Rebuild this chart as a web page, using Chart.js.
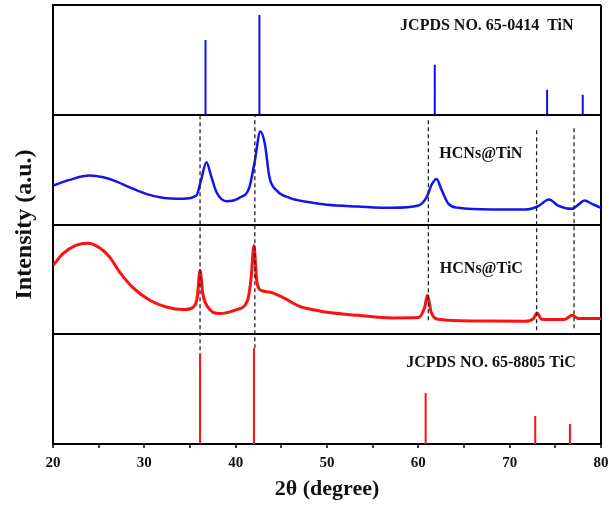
<!DOCTYPE html>
<html>
<head>
<meta charset="utf-8">
<script src="https://cdn.jsdelivr.net/npm/chart.js@4.4.0/dist/chart.umd.min.js"></script>
<style>
    html, body { margin: 0; padding: 0; background: #fff; }
    #wrap { width: 609px; height: 510px; }
</style>
</head>
<body>
<div id="wrap"><canvas id="xrdChart"></canvas></div>
<script>
// reference stick patterns (2theta, relative intensity)
var tinRefPos = [36.7, 42.6, 61.8, 74.1, 78.0];
var tinRefInt = [75, 100, 50, 25, 20];
var ticRefPos = [36.1, 42.0, 60.8, 72.8, 76.6];
var ticRefInt = [91, 96, 51, 28, 20];

// HCNs@TiN measured pattern
var tinAngle = [20.0, 21.8, 24.0, 25.5, 26.9, 28.4, 30.2, 32.0, 34.2, 35.7, 36.2, 36.8, 37.3, 37.9, 39.0, 40.4,
    41.5, 42.1, 42.7, 43.2, 43.7, 44.5, 45.9, 48.1, 50.0, 53.4, 57.1, 60.0, 60.9, 61.5, 62.0, 62.5, 63.3,
    64.4, 68.0, 71.7, 73.1, 74.3, 75.3, 76.8, 77.5, 78.2, 79.0, 80.0];
var tinCounts = [39, 44.7, 49, 47.3, 43.3, 37.3, 30.7, 26.7, 25.7, 29, 44, 62.3, 49, 32.3, 23.3, 26.7,
    37.3, 64, 93.3, 80.7, 47.3, 34, 26.7, 22.3, 19.7, 18, 16.7, 19, 27.3, 40.7, 45.7, 35.7, 20.7,
    16.7, 15, 15, 18.3, 25, 19, 15.7, 19.7, 24, 20.7, 16.7];

// HCNs@TiC measured pattern
var ticAngle = [20.0, 21.1, 22.5, 23.8, 25.1, 26.2, 27.3, 28.7, 30.6, 32.4, 34.2, 35.3, 35.8, 36.1, 36.4, 37.0,
    38.2, 40.1, 41.3, 41.7, 42.0, 42.3, 42.8, 43.7, 45.2, 47.0, 48.8, 50.0, 53.4, 57.1, 60.0, 60.7, 61.0,
    61.4, 62.2, 66.2, 71.7, 72.6, 73.0, 73.5, 76.0, 76.85, 77.5, 80.0];
var ticCounts = [69, 80.7, 89, 91.3, 86.7, 77.3, 62.3, 47.3, 34, 27.3, 24.7, 26.7, 37.3, 64, 40.7, 26.7,
    20.7, 24.7, 34, 57.3, 89, 54, 44, 42.3, 36.7, 28, 24, 22, 19, 16.3, 16.7, 27.3, 39,
    22.3, 15, 13.3, 13, 15.7, 21.3, 15, 14.7, 19, 15.7, 15.7];

// dashed guide lines (2theta, lower end, upper end on the stacked axis)
var guidePos = [36.1, 42.1, 61.1, 72.95, 77.05];
var guideLow = [94, 96, 124, 114, 116];
var guideHigh = [329, 329, 327, 317, 319];

var xTickLabels = [20, 30, 40, 50, 60, 70, 80];
var panelNames = ['JCPDS NO. 65-0414  TiN', 'HCNs@TiN', 'HCNs@TiC', 'JCPDS NO. 65-8805 TiC'];

var panelHeight = 110;

function curvePoints(angles, counts, offset) {
    var pts = [];
    for (var i = 0; i < angles.length; i++) {
        pts.push({ x: angles[i], y: offset + counts[i] });
    }
    return pts;
}

function stickPoints(pos, heights, offset) {
    var pts = [];
    for (var i = 0; i < pos.length; i++) {
        pts.push({ x: pos[i], y: offset });
        pts.push({ x: pos[i], y: offset + heights[i] });
        pts.push({ x: pos[i], y: null });
    }
    return pts;
}

function guidePoints() {
    var pts = [];
    for (var i = 0; i < guidePos.length; i++) {
        pts.push({ x: guidePos[i], y: guideLow[i] });
        pts.push({ x: guidePos[i], y: guideHigh[i] });
        pts.push({ x: guidePos[i], y: null });
    }
    return pts;
}

// panel label placement (x in degrees, y on stacked axis)
var labelSpots = [[67.5, 419], [66.85, 291], [66.9, 176], [67.95, 81]];

var panelLabelPlugin = {
    id: 'panelLabels',
    afterDatasetsDraw: function (chart) {
        var ctx = chart.ctx;
        var xs = chart.scales.x;
        var ys = chart.scales.y;
        ctx.save();
        ctx.fillStyle = '#111';
        ctx.font = 'bold 16px "Liberation Serif", "Times New Roman", serif';
        ctx.textAlign = 'center';
        ctx.textBaseline = 'middle';
        for (var i = 0; i < panelNames.length; i++) {
            ctx.fillText(panelNames[i], xs.getPixelForValue(labelSpots[i][0]), ys.getPixelForValue(labelSpots[i][1]));
        }
        ctx.restore();
    }
};

var serif = '"Liberation Serif", "Times New Roman", serif';

new Chart(document.getElementById('xrdChart').getContext('2d'), {
    type: 'line',
    data: {
        datasets: [
            {
                label: 'guides',
                data: guidePoints(),
                borderColor: '#222',
                borderWidth: 1.3,
                borderDash: [4, 3],
                pointRadius: 0,
                spanGaps: false
            },
            {
                label: 'TiN ref',
                data: stickPoints(tinRefPos, tinRefInt, 3 * panelHeight),
                borderColor: '#1010ee',
                borderWidth: 2,
                pointRadius: 0,
                spanGaps: false
            },
            {
                label: 'HCNs@TiN',
                data: curvePoints(tinAngle, tinCounts, 2 * panelHeight),
                borderColor: '#1414f0',
                borderWidth: 2.5,
                pointRadius: 0,
                cubicInterpolationMode: 'monotone'
            },
            {
                label: 'HCNs@TiC',
                data: curvePoints(ticAngle, ticCounts, panelHeight),
                borderColor: '#ff1010',
                borderWidth: 3,
                pointRadius: 0,
                cubicInterpolationMode: 'monotone'
            },
            {
                label: 'TiC ref',
                data: stickPoints(ticRefPos, ticRefInt, 0),
                borderColor: '#ff1010',
                borderWidth: 2,
                pointRadius: 0,
                spanGaps: false
            }
        ]
    },
    options: {
        responsive: true,
        maintainAspectRatio: false,
        animation: false,
        layout: { padding: { top: 5, right: 0, left: 0, bottom: 0 } },
        plugins: {
            legend: { display: false },
            tooltip: { enabled: false }
        },
        scales: {
            x: {
                type: 'linear',
                min: 20,
                max: 80,
                afterFit: function (scale) {
                    scale.height = 66;
                    scale.paddingRight = 8;
                    scale.paddingLeft = 0;
                },
                border: { display: true, color: '#000', width: 2 },
                grid: {
                    color: function (c) { return c.tick && c.tick.value === 80 ? '#000' : 'rgba(0,0,0,0)'; },
                    lineWidth: 2,
                    tickColor: '#000',
                    tickWidth: 1.5,
                    tickLength: 4
                },
                ticks: {
                    stepSize: 5,
                    autoSkip: false,
                    maxRotation: 0,
                    padding: 6,
                    color: '#111',
                    font: { family: serif, size: 15, weight: 'bold' },
                    callback: function (v) { return xTickLabels.indexOf(v) >= 0 ? String(v) : ''; }
                },
                title: {
                    display: true,
                    text: '2θ (degree)',
                    color: '#111',
                    font: { family: serif, size: 22, weight: 'bold' },
                    padding: { top: 0, bottom: 7 }
                }
            },
            y: {
                min: 0,
                max: 4 * panelHeight,
                afterFit: function (scale) { scale.width = 53; },
                border: { display: true, color: '#000', width: 2 },
                grid: {
                    color: function (c) { return c.tick && c.tick.value > 0 ? '#000' : 'rgba(0,0,0,0)'; },
                    lineWidth: 2,
                    drawTicks: false
                },
                ticks: { display: false, stepSize: panelHeight },
                title: {
                    display: true,
                    text: 'Intensity (a.u.)',
                    color: '#111',
                    font: { family: serif, size: 24, weight: 'bold' },
                    padding: { top: 10, bottom: 0 }
                }
            }
        }
    },
    plugins: [panelLabelPlugin]
});
</script>
</body>
</html>
